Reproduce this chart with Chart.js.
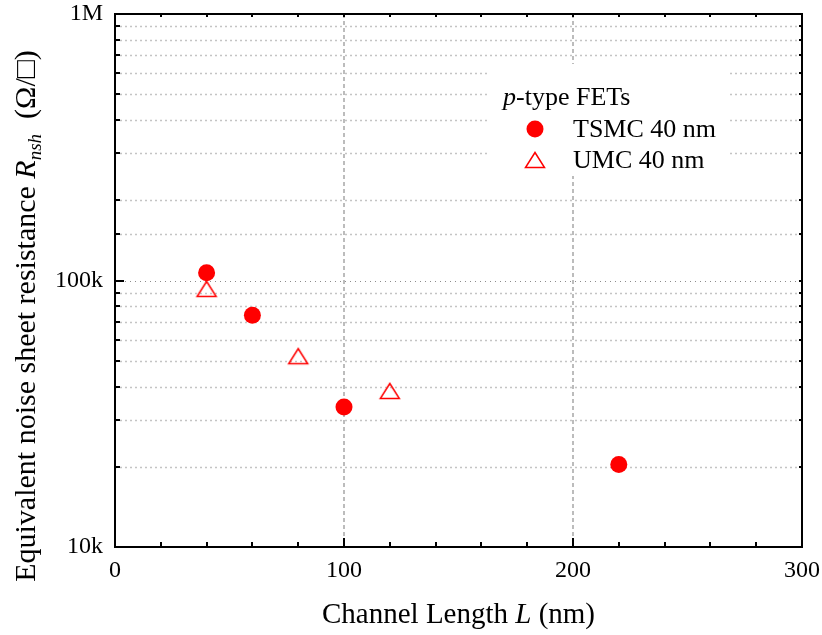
<!DOCTYPE html>
<html>
<head>
<meta charset="utf-8">
<script src="https://cdn.jsdelivr.net/npm/chart.js@4.4.1/dist/chart.umd.min.js"></script>
<style>
  html, body { margin: 0; padding: 0; background: #fff; }
  #wrap { width: 822px; height: 635px; }
</style>
</head>
<body>
<div id="wrap"><canvas id="canvas" width="822" height="635"></canvas></div>
<script>
// channel length (nm) vs equivalent noise sheet resistance (ohm/sq)
let tsmcLength = [40, 60, 100, 220];
let tsmcRnsh = [107000, 74000, 33500, 20400];

let umcLength = [40, 80, 120];
let umcRnsh = [93000, 52000, 38500];

let seriesLabels = ['TSMC 40 nm', 'UMC 40 nm'];

// axis ticks
let xRange = [0, 300];
let xTickStep = 100;
let xMinorStep = 20;
let yRange = [1e4, 1e6];
let yTickValues = [1e4, 1e5, 1e6];
let yTickLabels = ['10k', '100k', '1M'];

const SERIF = '"Liberation Serif", "Times New Roman", serif';
const RED = '#ff0000';

function toPoints(xs, ys) {
  return xs.map((x, i) => ({ x: x, y: ys[i] }));
}

// open triangle, a bit wider than equilateral
function triangleMarker(w, h, lw) {
  let c = document.createElement('canvas');
  c.width = Math.ceil(w + lw * 2 + 2);
  c.height = Math.ceil(h + lw * 2 + 2);
  let g = c.getContext('2d');
  let cx = c.width / 2, cy = c.height / 2;
  g.strokeStyle = RED;
  g.lineWidth = lw;
  g.beginPath();
  g.moveTo(cx, cy - h / 2);
  g.lineTo(cx + w / 2, cy + h / 2);
  g.lineTo(cx - w / 2, cy + h / 2);
  g.closePath();
  g.stroke();
  return c;
}
const tri = triangleMarker(19, 15, 1.5);

function isDecade(v) {
  let l = Math.log10(v);
  return Math.abs(l - Math.round(l)) < 1e-6;
}

function hline(ctx, a, py) {
  ctx.beginPath();
  ctx.moveTo(a.left, py);
  ctx.lineTo(a.right, py);
  ctx.stroke();
}

// grid, legend, frame and titles
const decor = {
  id: 'decor',
  beforeDatasetsDraw(chart) {
    const { ctx, chartArea: a, scales: { x, y } } = chart;
    ctx.save();

    // minor log grid
    ctx.strokeStyle = '#c4c4c4';
    ctx.lineWidth = 1.6;
    ctx.setLineDash([2, 3]);
    y.ticks.forEach(t => {
      if (isDecade(t.value)) return;
      hline(ctx, a, Math.round(y.getPixelForValue(t.value)) + 0.5);
    });

    // decade grid
    ctx.strokeStyle = '#8c8c8c';
    ctx.lineWidth = 1;
    ctx.setLineDash([1, 4]);
    y.ticks.forEach(t => {
      if (!isDecade(t.value) || t.value <= yRange[0] || t.value >= yRange[1]) return;
      hline(ctx, a, Math.round(y.getPixelForValue(t.value)) + 0.5);
    });

    // vertical grid
    ctx.strokeStyle = '#bcbcbc';
    ctx.lineWidth = 2;
    ctx.setLineDash([4, 3]);
    x.ticks.forEach(t => {
      if (t.value <= xRange[0] || t.value >= xRange[1]) return;
      let px = Math.round(x.getPixelForValue(t.value));
      ctx.beginPath();
      ctx.moveTo(px, a.top);
      ctx.lineTo(px, a.bottom);
      ctx.stroke();
    });
    ctx.setLineDash([]);

    // legend
    let lx = a.left + 372, ly = a.top + 50;
    ctx.fillStyle = '#fff';
    ctx.fillRect(lx, ly, 240, 112);
    ctx.fillStyle = '#000';
    ctx.textBaseline = 'alphabetic';
    ctx.textAlign = 'left';
    ctx.font = 'italic 26px ' + SERIF;
    ctx.fillText('p', lx + 16, ly + 41);
    let pw = ctx.measureText('p').width;
    ctx.font = '26px ' + SERIF;
    ctx.fillText('-type FETs', lx + 16 + pw, ly + 41);

    chart.data.datasets.forEach((ds, i) => {
      let mx = lx + 48, my = ly + 65 + i * 31;
      if (ds.pointStyle === 'circle') {
        ctx.fillStyle = RED;
        ctx.beginPath();
        ctx.arc(mx, my, ds.pointRadius, 0, Math.PI * 2);
        ctx.fill();
      } else {
        ctx.drawImage(ds.pointStyle, mx - ds.pointStyle.width / 2, my - ds.pointStyle.height / 2);
      }
      ctx.fillStyle = '#000';
      ctx.font = '26px ' + SERIF;
      ctx.fillText(ds.label, lx + 86, my + 8);
    });
    ctx.restore();
  },
  afterDatasetsDraw(chart) {
    const { ctx, chartArea: a, scales: { x, y } } = chart;
    ctx.save();
    ctx.strokeStyle = '#000';
    ctx.lineWidth = 2;
    ctx.strokeRect(a.left, a.top, a.right - a.left, a.bottom - a.top);

    // y ticks: inward on the left, short on the right
    y.ticks.forEach(t => {
      let py = Math.round(y.getPixelForValue(t.value));
      let len = isDecade(t.value) ? 9 : 5;
      ctx.beginPath();
      ctx.moveTo(a.left, py);
      ctx.lineTo(a.left + len, py);
      ctx.moveTo(a.right, py);
      ctx.lineTo(a.right - 3, py);
      ctx.stroke();
    });

    // x ticks: majors and minors on the bottom, short on top
    for (let v = xRange[0]; v <= xRange[1]; v += xMinorStep) {
      let px = Math.round(x.getPixelForValue(v));
      let len = v % xTickStep === 0 ? 9 : 5;
      ctx.beginPath();
      ctx.moveTo(px, a.bottom);
      ctx.lineTo(px, a.bottom - len);
      ctx.moveTo(px, a.top);
      ctx.lineTo(px, a.top + 3);
      ctx.stroke();
    }

    // x title
    ctx.fillStyle = '#000';
    ctx.textBaseline = 'alphabetic';
    ctx.textAlign = 'left';
    let parts = [['Channel Length ', ''], ['L', 'italic '], [' (nm)', '']];
    let tw = 0;
    parts.forEach(p => { ctx.font = p[1] + '29px ' + SERIF; tw += ctx.measureText(p[0]).width; });
    let tx = (a.left + a.right) / 2 - tw / 2;
    parts.forEach(p => {
      ctx.font = p[1] + '29px ' + SERIF;
      ctx.fillText(p[0], tx, 623);
      tx += ctx.measureText(p[0]).width;
    });

    // y title, rotated
    let yparts = [
      ['Equivalent noise sheet resistance ', '', 30, 0],
      ['R', 'italic ', 30, 0],
      ['nsh', 'italic ', 19, 6],
      ['  (\u03A9/\u25A1)', '', 30, 0]
    ];
    let yw = 0;
    yparts.forEach(p => { ctx.font = p[1] + p[2] + 'px ' + SERIF; yw += ctx.measureText(p[0]).width; });
    ctx.translate(35, a.top + 302);
    ctx.rotate(-Math.PI / 2);
    let ty = -yw / 2;
    yparts.forEach(p => {
      ctx.font = p[1] + p[2] + 'px ' + SERIF;
      ctx.fillText(p[0], ty, p[3]);
      ty += ctx.measureText(p[0]).width;
    });
    ctx.restore();
  }
};

let options = {
  type: 'scatter',
  data: {
    datasets: [{
      label: seriesLabels[0],
      data: toPoints(tsmcLength, tsmcRnsh),
      pointStyle: 'circle',
      pointRadius: 8.5,
      pointHoverRadius: 8.5,
      backgroundColor: RED,
      borderColor: RED,
      borderWidth: 0
    }, {
      label: seriesLabels[1],
      data: toPoints(umcLength, umcRnsh),
      pointStyle: tri,
      pointRadius: 10,
      backgroundColor: 'rgba(0,0,0,0)',
      borderColor: RED
    }]
  },
  options: {
    responsive: false,
    animation: false,
    devicePixelRatio: 1,
    layout: { padding: { top: 14, right: 20, left: 0, bottom: 0 } },
    plugins: {
      legend: { display: false },
      tooltip: { enabled: false }
    },
    scales: {
      x: {
        type: 'linear',
        min: xRange[0],
        max: xRange[1],
        ticks: {
          stepSize: xTickStep,
          maxRotation: 0,
          padding: 9,
          color: '#000',
          font: { family: SERIF, size: 24 }
        },
        grid: { display: false, drawTicks: false },
        border: { display: false },
        afterFit(s) {
          s.height = 88;
          s.paddingLeft = 0;
          s.paddingRight = 0;
        }
      },
      y: {
        type: 'logarithmic',
        min: yRange[0],
        max: yRange[1],
        ticks: {
          autoSkip: false,
          padding: 12,
          color: '#000',
          font: { family: SERIF, size: 24 },
          callback(v) {
            let i = yTickValues.findIndex(t => Math.abs(t - v) < t * 1e-6);
            return i >= 0 ? yTickLabels[i] : '';
          }
        },
        grid: { display: false, drawTicks: false },
        border: { display: false },
        afterFit(s) {
          s.width = 115;
          s.paddingTop = 0;
          s.paddingBottom = 0;
        }
      }
    }
  },
  plugins: [decor]
};

let chart = new Chart(document.getElementById('canvas'), options);
</script>
</body>
</html>
